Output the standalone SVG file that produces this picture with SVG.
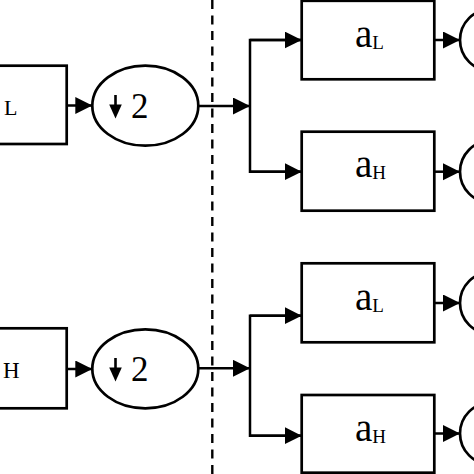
<svg xmlns="http://www.w3.org/2000/svg" width="474" height="474" viewBox="0 0 474 474">
<style>
.box{fill:#fff;stroke:#000;stroke-width:2.7}
.ell{fill:#fff;stroke:#000;stroke-width:2.7}
.wire{fill:none;stroke:#000;stroke-width:2.5}
text{font-family:"Liberation Serif","Times New Roman",serif;fill:#000}
.dash{stroke:#000;stroke-width:2.4;stroke-dasharray:9 6.5}
</style>
<defs>
<marker id="ah" markerUnits="userSpaceOnUse" markerWidth="18" markerHeight="18" refX="17" refY="8.5" orient="auto">
<path d="M0,0 L17,8.5 L0,17 z" fill="#000"/>
</marker>
<g id="dn">
<line x1="0" y1="0" x2="0" y2="12" stroke="#000" stroke-width="2.6"/>
<path d="M-6.3,9.5 L6.3,9.5 L0,23.5 z" fill="#000"/>
</g>
</defs>
<rect width="474" height="474" fill="#fff"/>
<line class="dash" x1="212.3" y1="0" x2="212.3" y2="474"/>

<g id="filterL">
<rect class="box" x="-40" y="65.7" width="106.7" height="78.3"/>
<text x="4" y="115" font-size="22">L</text>
</g>
<g id="down1">
<ellipse class="ell" cx="145.3" cy="105.7" rx="53" ry="40"/>
<use href="#dn" x="115.5" y="95"/>
<text x="131" y="118" font-size="35">2</text>
</g>
<g id="aL1">
<rect class="box" x="301.7" y="0.8" width="132.6" height="78.5"/>
<text x="355" y="46.7" font-size="39">a<tspan font-size="19" dy="1.8">L</tspan></text>
</g>
<g id="aH1">
<rect class="box" x="301.7" y="131.7" width="132.6" height="79"/>
<text x="355" y="177" font-size="39">a<tspan font-size="19" dy="2.3">H</tspan></text>
</g>
<g id="out1"><circle class="ell" cx="491" cy="40" r="31"/></g>
<g id="out2"><circle class="ell" cx="491" cy="171.7" r="31"/></g>

<g id="filterH">
<rect class="box" x="-40" y="328.3" width="106.7" height="80"/>
<text x="3" y="378.3" font-size="23">H</text>
</g>
<g id="down2">
<ellipse class="ell" cx="145.3" cy="368.8" rx="53" ry="39.5"/>
<use href="#dn" x="115.5" y="358"/>
<text x="131" y="381" font-size="35">2</text>
</g>
<g id="aL2">
<rect class="box" x="301.7" y="263.3" width="132.6" height="79"/>
<text x="355" y="310" font-size="39">a<tspan font-size="19" dy="1.8">L</tspan></text>
</g>
<g id="aH2">
<rect class="box" x="301.7" y="395" width="132.6" height="77.7"/>
<text x="355" y="441" font-size="39">a<tspan font-size="19" dy="2.3">H</tspan></text>
</g>
<g id="out3"><circle class="ell" cx="491" cy="303" r="31"/></g>
<g id="out4"><circle class="ell" cx="491" cy="433.5" r="31"/></g>

<g id="connectors">
<line class="wire" x1="66.7" y1="105.5" x2="92.3" y2="105.5" marker-end="url(#ah)"/>
<line class="wire" x1="198.3" y1="106" x2="250" y2="106" marker-end="url(#ah)"/>
<path class="wire" d="M301.7,40 H250 V171.7 H301.7"/>
<line class="wire" x1="250" y1="40" x2="301.7" y2="40" marker-end="url(#ah)"/>
<line class="wire" x1="250" y1="171.7" x2="301.7" y2="171.7" marker-end="url(#ah)"/>
<line class="wire" x1="434.3" y1="40" x2="460" y2="40" marker-end="url(#ah)"/>
<line class="wire" x1="434.3" y1="171.7" x2="460" y2="171.7" marker-end="url(#ah)"/>

<line class="wire" x1="66.7" y1="369" x2="92.3" y2="369" marker-end="url(#ah)"/>
<line class="wire" x1="198.3" y1="368.3" x2="250" y2="368.3" marker-end="url(#ah)"/>
<path class="wire" d="M301.7,315.7 H250 V435.7 H301.7"/>
<line class="wire" x1="250" y1="315.7" x2="301.7" y2="315.7" marker-end="url(#ah)"/>
<line class="wire" x1="250" y1="435.7" x2="301.7" y2="435.7" marker-end="url(#ah)"/>
<line class="wire" x1="434.3" y1="303" x2="460" y2="303" marker-end="url(#ah)"/>
<line class="wire" x1="434.3" y1="433.5" x2="460" y2="433.5" marker-end="url(#ah)"/>
</g>
</svg>
